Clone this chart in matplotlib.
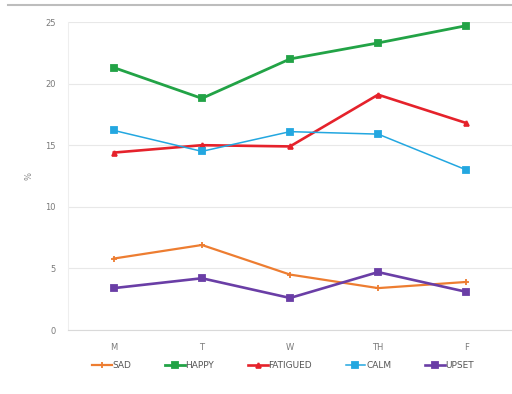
import matplotlib
matplotlib.use("Agg")
import matplotlib.pyplot as plt
from matplotlib.lines import Line2D

days = ["M", "T", "W", "TH", "F"]
sad = [5.8, 6.9, 4.5, 3.4, 3.9]
happy = [21.3, 18.8, 22.0, 23.3, 24.7]
fatigued = [14.4, 15.0, 14.9, 19.1, 16.8]
calm = [16.2, 14.5, 16.1, 15.9, 13.0]
upset = [3.4, 4.2, 2.6, 4.7, 3.1]

series = [
    ("SAD", sad, "#ED7D31", "+", 1.6, 4.5),
    ("HAPPY", happy, "#22A346", "s", 2.0, 4),
    ("FATIGUED", fatigued, "#E5222B", "^", 1.9, 3.5),
    ("CALM", calm, "#23A7E0", "s", 1.1, 4),
    ("UPSET", upset, "#6A3EA6", "s", 1.9, 4),
]

fig = plt.figure(figsize=(5.12, 3.94), dpi=100)
fig.patch.set_facecolor("white")
ax = fig.add_axes([68 / 512, 64 / 394, 1 - 68 / 512, 308 / 394])

x = list(range(len(days)))
for name, vals, col, mk, lw, ms in series:
    ax.plot(x, vals, color=col, lw=lw, marker=mk, ms=ms, mew=1.3, label=name)

ax.set_xlim(-0.52, 4.52)
ax.set_ylim(0, 25)
ax.set_yticks([0, 5, 10, 15, 20, 25])
ax.set_xticks(x)
ax.set_xticklabels(days)
ax.tick_params(colors="#7a7a7a", labelsize=6, length=0, pad=9)
ax.grid(True, axis="y", color="#e8e8e8", lw=0.8)
ax.set_axisbelow(True)
for s in ["top", "right"]:
    ax.spines[s].set_visible(False)
ax.spines["left"].set_color("#eeeeee")
ax.spines["bottom"].set_color("#d9d9d9")
ax.set_ylabel("%", color="#888888", fontsize=6, labelpad=8)

ax.legend(loc="upper center", bbox_to_anchor=(0.5 - 7 / 444, -0.075), ncol=5,
          frameon=False, fontsize=6.5, labelcolor="#555555",
          handlelength=2.2, handletextpad=0.1, columnspacing=3.7)

# thin gray rule along the top
fig.add_artist(Line2D([8 / 512, 1.0], [1 - 5 / 394, 1 - 5 / 394],
                      color="#bdbdbd", lw=1.5, transform=fig.transFigure))

fig.savefig("out.png", dpi=100, facecolor="white")
